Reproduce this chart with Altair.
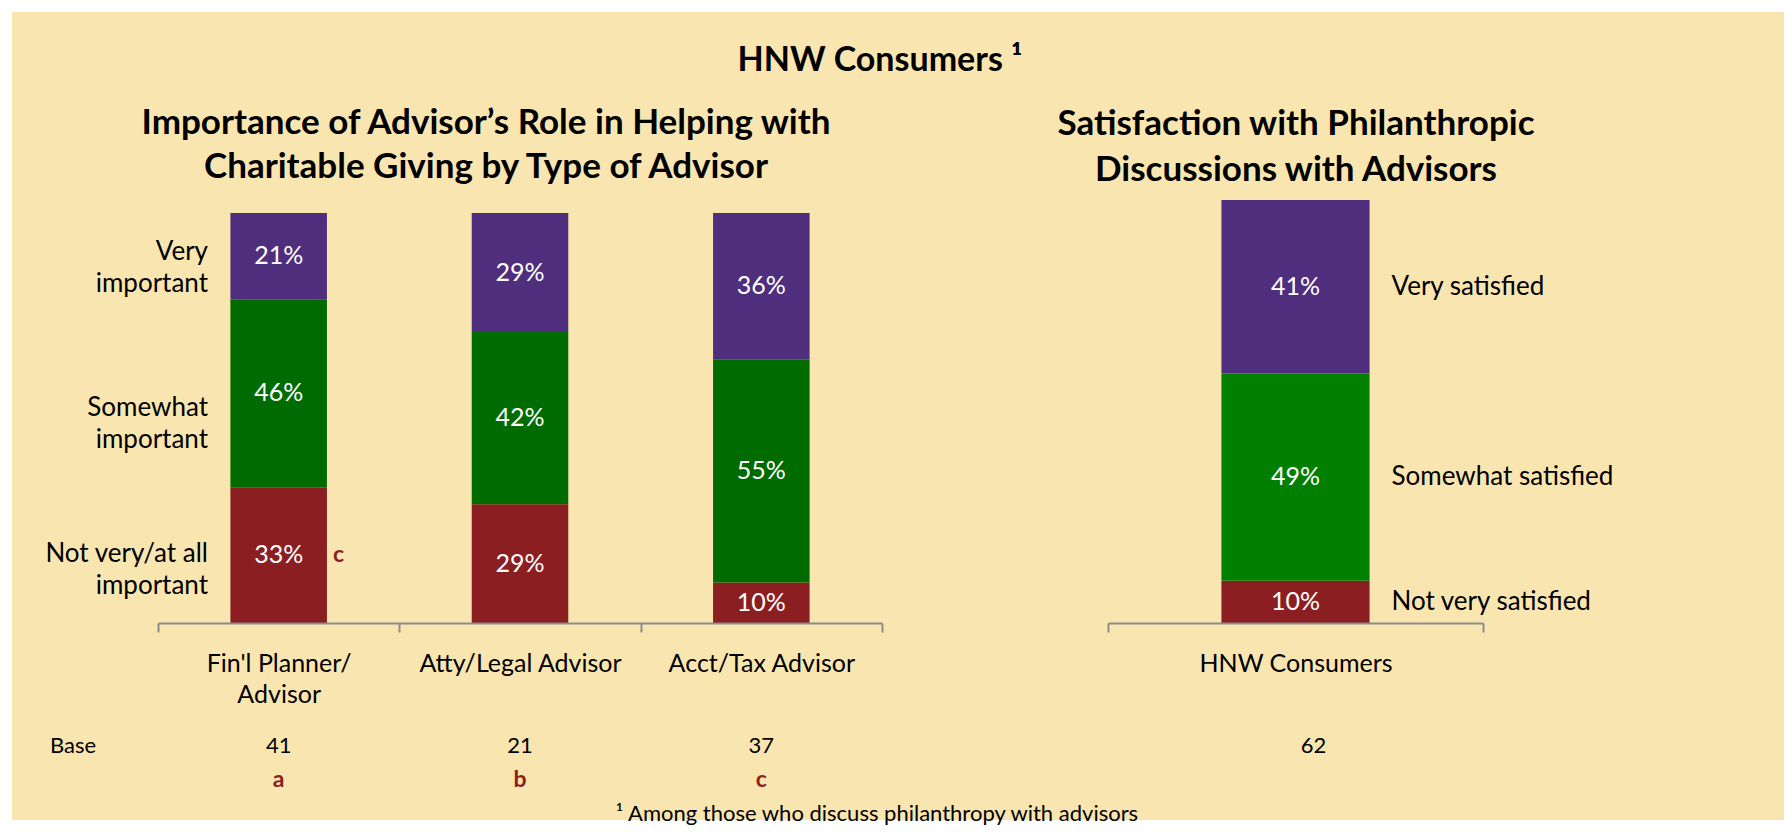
import altair as alt
import pandas as pd

FONT = "Lato"
BG = "#F9E5B0"
PURPLE = "#4F2E7E"
GREEN_L = "#006B00"
GREEN_R = "#007F00"
RED = "#8B1E21"
AXIS_GRAY = "#8C8C8C"

# ---------------- data ----------------
main_title = "HNW Consumers \u00b9"
left_title = "Importance of Advisor\u2019s Role in Helping with\nCharitable Giving by Type of Advisor"
right_title = "Satisfaction with Philanthropic\nDiscussions with Advisors"
footnote = "\u00b9 Among those who discuss philanthropy with advisors"
base_label = "Base"

advisors = ["Fin'l Planner/\nAdvisor", "Atty/Legal Advisor", "Acct/Tax Advisor"]
importance_levels = ["Not very/at all\nimportant", "Somewhat\nimportant", "Very\nimportant"]
not_very = [33, 29, 10]
somewhat = [46, 42, 55]
very = [21, 29, 36]
advisor_base = [41, 21, 37]
advisor_letters = ["a", "b", "c"]
sig_marks = [["c", "", ""], ["", "", ""], ["", "", ""]]  # per advisor, per level

sat_group = ["HNW Consumers"]
sat_levels = ["Not very satisfied", "Somewhat satisfied", "Very satisfied"]
sat_values = [10, 49, 41]
sat_base = [62]

# ---------------- tables ----------------
rows = []
for i, a in enumerate(advisors):
    vals = [not_very[i], somewhat[i], very[i]]
    for j, lev in enumerate(importance_levels):
        rows.append({
            "advisor": a, "level": lev, "order": j, "value": vals[j],
            "sig": sig_marks[i][j],
        })
left_df = pd.DataFrame(rows)
left_base_df = pd.DataFrame({"advisor": advisors, "base": [str(b) for b in advisor_base],
                             "letter": advisor_letters})

sat_df = pd.DataFrame({"group": sat_group * 3, "sat_level": sat_levels,
                       "order": [0, 1, 2], "value": sat_values})
sat_base_df = pd.DataFrame({"group": sat_group, "base": [str(b) for b in sat_base]})

one = pd.DataFrame({"k": [0]})

axis_common = dict(
    labelAngle=0, labelFont=FONT, labelFontSize=25, labelColor="black",
    labelPadding=31, labelLineHeight=31, labelBaseline="middle", labelLimit=500,
    domainColor=AXIS_GRAY, domainWidth=2, tickColor=AXIS_GRAY, tickWidth=2,
    tickSize=9, tickBand="extent", zindex=2,
)

# ---------------- left chart ----------------
LW, LH = 724, 423
x_left = alt.X(
    "advisor:N", sort=advisors, title=None,
    scale=alt.Scale(paddingInner=0, paddingOuter=0),
    axis=alt.Axis(labelExpr="split(datum.label, '\\n')", **axis_common),
)
yscale_left = alt.Scale(domain=[0, 1.032], nice=False, zero=True)

lbase = alt.Chart(left_df).transform_stack(
    stack="value", groupby=["advisor"], as_=["v0", "v1"], offset="normalize",
    sort=[alt.SortField("order", order="ascending")],
).transform_calculate(
    mid="(datum.v0 + datum.v1) / 2", label="datum.value + '%'"
)

bg_rect = alt.Chart(one).mark_rect(color=BG).encode(
    x=alt.value(-146), x2=alt.value(1626), y=alt.value(-188), y2=alt.value(620)
)

lbars = lbase.mark_bar(width=alt.RelativeBandSize(0.4)).encode(
    x=x_left,
    y=alt.Y("v0:Q", scale=yscale_left, axis=None),
    y2="v1:Q",
    color=alt.Color("level:N", scale=alt.Scale(domain=importance_levels,
                                                range=[RED, GREEN_L, PURPLE]), legend=None),
)
lvals = lbase.mark_text(color="white", font=FONT, fontSize=25).encode(
    x=x_left, y=alt.Y("mid:Q", scale=yscale_left, axis=None), text="label:N"
)
# category labels: placed at the midpoints of the average (stacked) distribution
lylabels = alt.Chart(left_df).transform_aggregate(
    mean_v="mean(value)", groupby=["level", "order"]
).transform_calculate(one="1").transform_stack(
    stack="mean_v", groupby=["one"], as_=["m0", "m1"], offset="normalize",
    sort=[alt.SortField("order", order="ascending")],
).transform_calculate(
    mmid="(datum.m0 + datum.m1) / 2"
).mark_text(align="right", font=FONT, fontSize=26, color="black",
            lineBreak="\n", lineHeight=32, dy=-20).encode(
    x=alt.value(50), y=alt.Y("mmid:Q", scale=yscale_left, axis=None), text="level:N"
)
lsig = lbase.mark_text(font=FONT, fontSize=23, fontWeight="bold", color=RED, dx=60).encode(
    x=x_left, y=alt.Y("mid:Q", scale=yscale_left, axis=None), text="sig:N"
)
lbase_nums = alt.Chart(left_base_df).mark_text(font=FONT, fontSize=22, color="black").encode(
    x=x_left, y=alt.value(546), text="base:N"
)
lletters = alt.Chart(left_base_df).mark_text(font=FONT, fontSize=23, fontWeight="bold",
                                             color=RED).encode(
    x=x_left, y=alt.value(580), text="letter:N"
)
base_txt = alt.Chart(pd.DataFrame({"t": [base_label]})).mark_text(
    font=FONT, fontSize=22, align="left", color="black").encode(
    x=alt.value(-108), y=alt.value(546), text="t:N")
main_txt = alt.Chart(pd.DataFrame({"t": [main_title]})).mark_text(
    font=FONT, fontSize=34, fontWeight="bold", color="black").encode(
    x=alt.value(722), y=alt.value(-139), text="t:N")
ltitle_txt = alt.Chart(pd.DataFrame({"t": [left_title]})).mark_text(
    font=FONT, fontSize=35, fontWeight="bold", color="black", lineBreak="\n",
    lineHeight=44).encode(
    x=alt.value(328), y=alt.value(-77), text="t:N")
foot_txt = alt.Chart(pd.DataFrame({"t": [footnote]})).mark_text(
    font=FONT, fontSize=22, color="black").encode(
    x=alt.value(719), y=alt.value(614), text="t:N")

left = alt.layer(bg_rect, lbars, lvals, lylabels, lsig, lbase_nums, lletters,
                 base_txt, main_txt, ltitle_txt, foot_txt).properties(width=LW, height=LH)

# ---------------- right chart ----------------
RW, RH = 375, 423
x_right = alt.X(
    "group:N", title=None,
    scale=alt.Scale(paddingInner=0, paddingOuter=0),
    axis=alt.Axis(**axis_common),
)
yscale_right = alt.Scale(domain=[0, 1], nice=False, zero=True)

rbase = alt.Chart(sat_df).transform_stack(
    stack="value", groupby=["group"], as_=["v0", "v1"], offset="normalize",
    sort=[alt.SortField("order", order="ascending")],
).transform_calculate(
    mid="(datum.v0 + datum.v1) / 2", label="datum.value + '%'"
)
rbars = rbase.mark_bar(width=alt.RelativeBandSize(0.395)).encode(
    x=x_right,
    y=alt.Y("v0:Q", scale=yscale_right, axis=None),
    y2="v1:Q",
    color=alt.Color("sat_level:N", scale=alt.Scale(domain=sat_levels,
                                                    range=[RED, GREEN_R, PURPLE]), legend=None),
)
rvals = rbase.mark_text(color="white", font=FONT, fontSize=25).encode(
    x=x_right, y=alt.Y("mid:Q", scale=yscale_right, axis=None), text="label:N"
)
rcats = rbase.mark_text(align="left", font=FONT, fontSize=26, color="black", dx=96).encode(
    x=x_right, y=alt.Y("mid:Q", scale=yscale_right, axis=None), text="sat_level:N"
)
rbase_nums = alt.Chart(sat_base_df).mark_text(font=FONT, fontSize=22, color="black", dx=18).encode(
    x=x_right, y=alt.value(546), text="base:N"
)
rtitle_txt = alt.Chart(pd.DataFrame({"t": [right_title]})).mark_text(
    font=FONT, fontSize=35, fontWeight="bold", color="black", lineBreak="\n",
    lineHeight=46).encode(
    x=alt.value(188), y=alt.value(-76), text="t:N")

right = alt.layer(rbars, rvals, rcats, rbase_nums, rtitle_txt).properties(width=RW, height=RH)

chart = alt.hconcat(left, right, spacing=226, bounds="flush").resolve_scale(
    x="independent", y="independent", color="independent"
).properties(
    background="white",
    padding={"left": 4, "top": 4, "right": 0, "bottom": 0},
).configure_view(stroke=None)

chart.save("out.html", embed_options={"renderer": "svg", "actions": False})
